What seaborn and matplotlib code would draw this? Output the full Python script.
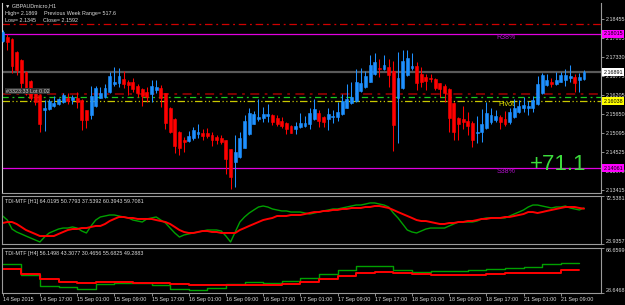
import numpy as np
import pandas as pd
import matplotlib
matplotlib.use("Agg")
import matplotlib.pyplot as plt
import matplotlib.transforms as mtransforms
import seaborn as sns

# ---------------- data ----------------
opens = [2.1781, 2.1792, 2.1787, 2.1748, 2.1725, 2.1689, 2.1663, 2.1639, 2.1622, 2.1577,
         2.1580, 2.1589, 2.1595, 2.1601, 2.1613, 2.1607, 2.1613, 2.1607, 2.1577, 2.1563,
         2.1589, 2.1613, 2.1616, 2.1630, 2.1654, 2.1657, 2.1669, 2.1660, 2.1660, 2.1648,
         2.1639, 2.1630, 2.1624, 2.1636, 2.1642, 2.1627, 2.1583, 2.1551, 2.1512, 2.1489,
         2.1486, 2.1495, 2.1507, 2.1510, 2.1510, 2.1504, 2.1498, 2.1495, 2.1489, 2.1462,
         2.1424, 2.1439, 2.1465, 2.1507, 2.1536, 2.1551, 2.1554, 2.1560, 2.1563, 2.1554,
         2.1545, 2.1539, 2.1530, 2.1521, 2.1527, 2.1530, 2.1536, 2.1551, 2.1568, 2.1557,
         2.1551, 2.1557, 2.1557, 2.1566, 2.1583, 2.1598, 2.1604, 2.1633, 2.1645, 2.1660,
         2.1683, 2.1701, 2.1698, 2.1704, 2.1692, 2.1613, 2.1642, 2.1680, 2.1701, 2.1707,
         2.1683, 2.1675, 2.1672, 2.1669, 2.1657, 2.1648, 2.1639, 2.1598, 2.1554, 2.1551,
         2.1545, 2.1539, 2.1510, 2.1512, 2.1524, 2.1542, 2.1548, 2.1557, 2.1551, 2.1542,
         2.1557, 2.1571, 2.1583, 2.1583, 2.1583, 2.1595, 2.1627, 2.1651, 2.1660, 2.1654,
         2.1660, 2.1666, 2.1672, 2.1675, 2.1666, 2.1669]
highs = [2.1813, 2.1801, 2.1790, 2.1751, 2.1728, 2.1692, 2.1666, 2.1642, 2.1624, 2.1607,
         2.1610, 2.1619, 2.1613, 2.1627, 2.1627, 2.1622, 2.1630, 2.1610, 2.1577, 2.1648,
         2.1648, 2.1645, 2.1654, 2.1689, 2.1704, 2.1701, 2.1692, 2.1666, 2.1672, 2.1654,
         2.1642, 2.1645, 2.1666, 2.1666, 2.1651, 2.1627, 2.1586, 2.1554, 2.1515, 2.1498,
         2.1515, 2.1527, 2.1536, 2.1521, 2.1524, 2.1512, 2.1504, 2.1504, 2.1489, 2.1462,
         2.1504, 2.1512, 2.1563, 2.1583, 2.1574, 2.1610, 2.1586, 2.1595, 2.1566, 2.1563,
         2.1557, 2.1542, 2.1533, 2.1542, 2.1568, 2.1560, 2.1583, 2.1610, 2.1577, 2.1560,
         2.1583, 2.1577, 2.1601, 2.1624, 2.1654, 2.1660, 2.1698, 2.1701, 2.1692, 2.1739,
         2.1745, 2.1728, 2.1739, 2.1728, 2.1722, 2.1748, 2.1754, 2.1754, 2.1745, 2.1719,
         2.1704, 2.1683, 2.1683, 2.1672, 2.1657, 2.1654, 2.1642, 2.1601, 2.1557, 2.1589,
         2.1571, 2.1545, 2.1560, 2.1580, 2.1601, 2.1583, 2.1577, 2.1563, 2.1574, 2.1583,
         2.1610, 2.1607, 2.1616, 2.1604, 2.1619, 2.1678, 2.1686, 2.1683, 2.1672, 2.1689,
         2.1689, 2.1698, 2.1710, 2.1683, 2.1686, 2.1695]
lows = [2.1778, 2.1754, 2.1686, 2.1680, 2.1636, 2.1622, 2.1607, 2.1592, 2.1512, 2.1515,
        2.1577, 2.1586, 2.1592, 2.1598, 2.1595, 2.1595, 2.1583, 2.1518, 2.1524, 2.1551,
        2.1586, 2.1613, 2.1613, 2.1627, 2.1648, 2.1645, 2.1642, 2.1622, 2.1630, 2.1616,
        2.1589, 2.1601, 2.1601, 2.1627, 2.1586, 2.1521, 2.1510, 2.1451, 2.1445, 2.1454,
        2.1483, 2.1489, 2.1495, 2.1489, 2.1495, 2.1471, 2.1477, 2.1477, 2.1389, 2.1345,
        2.1350, 2.1436, 2.1465, 2.1504, 2.1536, 2.1545, 2.1542, 2.1542, 2.1533, 2.1530,
        2.1524, 2.1507, 2.1510, 2.1507, 2.1524, 2.1527, 2.1521, 2.1548, 2.1527, 2.1527,
        2.1518, 2.1539, 2.1545, 2.1563, 2.1583, 2.1595, 2.1601, 2.1630, 2.1642, 2.1660,
        2.1680, 2.1675, 2.1695, 2.1645, 2.1457, 2.1480, 2.1639, 2.1678, 2.1695, 2.1636,
        2.1645, 2.1636, 2.1660, 2.1636, 2.1616, 2.1601, 2.1512, 2.1489, 2.1489, 2.1521,
        2.1504, 2.1468, 2.1480, 2.1483, 2.1521, 2.1536, 2.1542, 2.1521, 2.1530, 2.1536,
        2.1554, 2.1568, 2.1571, 2.1563, 2.1571, 2.1592, 2.1624, 2.1648, 2.1645, 2.1651,
        2.1660, 2.1648, 2.1660, 2.1630, 2.1630, 2.1666]
closes = [2.1807, 2.1778, 2.1707, 2.1695, 2.1657, 2.1630, 2.1613, 2.1601, 2.1536, 2.1583,
          2.1604, 2.1598, 2.1610, 2.1622, 2.1604, 2.1616, 2.1601, 2.1548, 2.1548, 2.1619,
          2.1642, 2.1627, 2.1642, 2.1678, 2.1660, 2.1678, 2.1654, 2.1651, 2.1639, 2.1627,
          2.1619, 2.1616, 2.1648, 2.1645, 2.1613, 2.1539, 2.1512, 2.1471, 2.1465, 2.1483,
          2.1501, 2.1518, 2.1512, 2.1501, 2.1501, 2.1489, 2.1489, 2.1483, 2.1433, 2.1380,
          2.1454, 2.1495, 2.1545, 2.1568, 2.1566, 2.1557, 2.1566, 2.1566, 2.1542, 2.1536,
          2.1530, 2.1521, 2.1510, 2.1530, 2.1539, 2.1539, 2.1568, 2.1580, 2.1545, 2.1542,
          2.1566, 2.1560, 2.1571, 2.1604, 2.1610, 2.1616, 2.1660, 2.1657, 2.1678, 2.1710,
          2.1719, 2.1698, 2.1710, 2.1680, 2.1533, 2.1672, 2.1722, 2.1731, 2.1707, 2.1657,
          2.1660, 2.1663, 2.1669, 2.1642, 2.1639, 2.1627, 2.1554, 2.1512, 2.1536, 2.1542,
          2.1530, 2.1489, 2.1512, 2.1536, 2.1568, 2.1563, 2.1560, 2.1542, 2.1536, 2.1571,
          2.1583, 2.1589, 2.1592, 2.1589, 2.1607, 2.1654, 2.1680, 2.1666, 2.1654, 2.1666,
          2.1680, 2.1680, 2.1678, 2.1657, 2.1675, 2.1689]

tdi_h1_green = [52.3, 48.2, 39.1, 36.1, 34.1, 32.0, 30.0, 28.0, 26.0, 31.0,
                35.1, 37.1, 39.1, 40.1, 40.1, 41.2, 40.1, 37.1, 35.1, 42.2,
                48.2, 51.3, 52.3, 53.3, 53.3, 52.3, 51.3, 50.3, 48.2, 47.2,
                46.2, 49.3, 50.3, 51.3, 48.2, 45.2, 40.1, 35.1, 31.0, 33.1,
                34.1, 35.1, 36.1, 37.1, 38.1, 38.1, 38.1, 37.1, 32.0, 26.0,
                36.1, 46.2, 51.3, 55.3, 58.4, 61.4, 62.4, 61.4, 59.4, 58.4,
                57.4, 57.4, 56.3, 56.3, 56.3, 55.3, 54.3, 55.3, 56.3, 57.4,
                58.4, 59.4, 59.4, 60.4, 61.4, 62.4, 63.4, 63.4, 64.4, 65.5,
                65.5, 64.4, 63.4, 61.4, 55.3, 50.3, 44.2, 38.1, 36.1, 35.1,
                37.1, 39.1, 40.1, 40.1, 40.1, 40.1, 42.2, 44.2, 46.2, 46.2,
                46.2, 46.2, 47.2, 49.3, 50.3, 50.3, 50.3, 50.3, 50.3, 52.3,
                54.3, 56.3, 58.4, 61.4, 63.4, 63.4, 62.4, 61.4, 60.4, 61.4,
                61.4, 62.4, 60.4, 59.4, 58.4, 60.4]
tdi_h1_red = [45.2, 46.2, 46.2, 44.2, 41.2, 38.1, 36.1, 34.1, 32.0, 32.0,
              32.0, 32.0, 34.1, 36.1, 38.1, 39.1, 39.1, 40.1, 40.1, 41.2,
              42.2, 42.2, 44.2, 47.2, 49.3, 51.3, 51.3, 50.3, 50.3, 49.3,
              49.3, 49.3, 49.3, 48.2, 47.2, 46.2, 44.2, 41.2, 38.1, 36.1,
              35.1, 35.1, 36.1, 37.1, 37.1, 36.1, 36.1, 35.1, 35.1, 35.1,
              35.1, 38.1, 40.1, 42.2, 44.2, 46.2, 48.2, 49.3, 50.3, 52.3,
              52.3, 52.3, 53.3, 53.3, 53.3, 54.3, 55.3, 56.3, 56.3, 57.4,
              57.4, 58.4, 58.4, 59.4, 59.4, 60.4, 60.4, 60.4, 61.4, 61.4,
              62.4, 62.4, 61.4, 60.4, 58.4, 56.3, 54.3, 52.3, 50.3, 48.2,
              47.2, 47.2, 46.2, 45.2, 44.2, 44.2, 45.2, 45.2, 46.2, 46.2,
              47.2, 47.2, 48.2, 49.3, 49.3, 50.3, 50.3, 50.3, 51.3, 51.3,
              52.3, 53.3, 54.3, 56.3, 56.3, 55.3, 56.3, 57.4, 58.4, 59.4,
              60.4, 61.4, 61.4, 61.4, 60.4, 59.7]

tdi_h4_green = [54.4, 44.7, 34.9, 34.0, 32.2, 36.7, 37.5, 37.5, 35.8, 32.2, 31.3, 33.1,
                36.7, 38.4, 37.5, 39.3, 42.0, 45.5, 49.1, 52.7, 52.7, 49.1, 47.3, 48.2,
                48.2, 49.1, 50.0, 50.9, 51.8, 54.4, 55.7, 55.7]
tdi_h4_red = [50.0, 45.5, 41.1, 38.4, 37.5, 38.4, 38.4, 37.5, 37.5, 36.7, 35.8, 35.8,
              35.8, 35.8, 35.8, 36.7, 38.4, 41.1, 43.8, 46.4, 47.3, 46.4, 45.5, 44.7,
              44.7, 44.7, 45.5, 46.4, 46.4, 46.4, 49.3, 49.3]

time_labels = ["14 Sep 2015", "14 Sep 17:00", "15 Sep 01:00", "15 Sep 09:00",
               "15 Sep 17:00", "16 Sep 01:00", "16 Sep 09:00", "16 Sep 17:00",
               "17 Sep 01:00", "17 Sep 09:00", "17 Sep 17:00", "18 Sep 01:00",
               "18 Sep 09:00", "18 Sep 17:00", "21 Sep 01:00", "21 Sep 09:00"]
time_label_bars = [0, 8, 16, 24, 32, 40, 48, 56, 64, 72, 80, 88, 96, 104, 112, 120]

price_ticks = [2.18455, 2.17885, 2.17330, 2.16775, 2.16205, 2.15650,
               2.15095, 2.14525, 2.13970, 2.13415]
price_range = [2.13327, 2.18927]

level_red_top = 2.1832
level_r38 = 2.18015
level_current = 2.16891
level_darkred = 2.1624
level_green = 2.1615
level_pivot = 2.16038
level_s38 = 2.14061

h1_range = [23.9357, 72.5381]
h4_range = [28.6468, 68.6599]

# ---------------- style ----------------
sns.set_theme(style="dark", rc={"axes.facecolor": "black", "figure.facecolor": "black",
                                "axes.grid": False})
plt.rcParams['font.family'] = ['Liberation Sans', 'DejaVu Sans']

TXT = '#DCDCDC'
BULL = '#1E90FF'
BEAR = '#FF0000'
FS = 3.9

W, H = 625, 305
fig = plt.figure(figsize=(6.25, 3.05), dpi=100, facecolor='black')


def fx(px):
    return px / W


def fy(py):
    return 1 - py / H


ax_main = fig.add_axes([fx(2), fy(193), (601 - 2) / W, (193 - 3) / H])
ax_h1 = fig.add_axes([fx(2), fy(244), (601 - 2) / W, (244 - 196) / H])
ax_h4 = fig.add_axes([fx(2), fy(293), (601 - 2) / W, (293 - 248) / H])

for ax in (ax_main, ax_h1, ax_h4):
    ax.set_facecolor('black')
    ax.set_xlim(-0.15, 128.65)
    for s in ax.spines.values():
        s.set_color('#9A9A9A')
        s.set_linewidth(0.8)
    ax.yaxis.tick_right()
    ax.tick_params(axis='y', which='both', right=True, left=False, length=2, width=0.5,
                   color='#C8C8C8', labelsize=FS, labelcolor=TXT, pad=1.5)
    ax.tick_params(axis='x', bottom=False, labelbottom=False)

ax_main.spines['top'].set_visible(False)
ax_main.spines['left'].set_color('#D0D0D0')

# ---------------- main chart ----------------
df = pd.DataFrame({'bar': np.arange(len(opens)), 'open': opens, 'high': highs,
                   'low': lows, 'close': closes})
up = df['close'] >= df['open']
cols = np.where(up, BULL, BEAR)

ax_main.axhline(level_red_top, color='#D00000', lw=0.9, ls=(0, (6, 3, 1.5, 3)), zorder=1)
ax_main.axhline(level_r38, color='#E000E0', lw=0.9, zorder=1)
ax_main.axhline(level_current, color='#5A5A5A', lw=1.6, zorder=1)
ax_main.axhline(level_darkred, color='#8B0000', lw=1.3, ls=(0, (5, 3, 1.5, 3)), zorder=1)
ax_main.axhline(level_green, color='#1EC81E', lw=0.9, ls=(0, (5, 3, 1.5, 3)), zorder=1)
ax_main.axhline(level_pivot, color='#C8C800', lw=0.9, ls=(0, (6, 2, 1, 2, 1, 2)), zorder=1)
ax_main.axhline(level_s38, color='#E000E0', lw=0.9, zorder=1)

ax_main.vlines(df['bar'], df['low'], df['high'], colors=cols, linewidth=0.75, zorder=3)
ax_main.bar(df['bar'], (df['close'] - df['open']).abs(),
            bottom=df[['open', 'close']].min(axis=1), width=0.62,
            color=cols, edgecolor=cols, linewidth=0.4, zorder=4)

ax_main.set_ylim(*price_range)
ax_main.set_yticks(price_ticks)
ax_main.set_yticklabels([f"{v:.5f}" for v in price_ticks])

tr = mtransforms.blended_transform_factory(ax_main.transAxes, ax_main.transData)
for val, fc in [(level_r38, '#FF00FF'), (level_current, '#FFFFFF'),
                (level_pivot, '#FFFF00'), (level_s38, '#FF00FF')]:
    ax_main.text(1.004, val, f"{val:.5f}", transform=tr, ha='left', va='center',
                 fontsize=FS, color='black', clip_on=False, zorder=10,
                 bbox=dict(boxstyle='square,pad=0.22', fc=fc, ec='none'))

ax_main.text(108.3, level_r38, "R38%", color='#B010C8', fontsize=5, ha='center',
             va='top', zorder=6)
ax_main.text(108.3, level_s38, "S38%", color='#B010C8', fontsize=5, ha='center',
             va='top', zorder=6)
ax_main.text(108.3, level_pivot - 0.0009, "Pivot", color='#E6E600', fontsize=5.2,
             ha='center', va='center', zorder=6)

fig.text(fx(558), fy(165), "+71.1", color='#3CDC3C', fontsize=16, ha='center',
         va='center')

# header texts
fig.text(fx(5), fy(5.5), "▼ GBPAUDmicro,H1", color=TXT, fontsize=FS, va='center')
fig.text(fx(5), fy(14), "High= 2.1869", color=TXT, fontsize=FS, va='center')
fig.text(fx(44), fy(14), "Previous Week Range= 517.6", color=TXT, fontsize=FS, va='center')
fig.text(fx(5), fy(20.5), "Low= 2.1345", color=TXT, fontsize=FS, va='center')
fig.text(fx(43), fy(20.5), "Close= 2.1592", color=TXT, fontsize=FS, va='center')
fig.text(fx(6), fy(91), "#3323:33 Lot 0.02", color='#C8C8C8', fontsize=FS, va='center',
         bbox=dict(boxstyle='square,pad=0.1', fc='#303030', ec='none'))

# ---------------- TDI H1 ----------------
bars = np.arange(len(tdi_h1_green))
sns.lineplot(x=bars, y=tdi_h1_green, ax=ax_h1, color='#00A000', linewidth=1.0,
             errorbar=None)
sns.lineplot(x=bars, y=tdi_h1_red, ax=ax_h1, color='#FF0000', linewidth=1.4,
             errorbar=None)
ax_h1.set_ylim(*h1_range)
ax_h1.set_yticks(h1_range)
ax_h1.set_yticklabels([f"{h1_range[0]:.4f}", f"{h1_range[1]:.4f}"])
tk = ax_h1.yaxis.get_major_ticks()
tk[0].label2.set_va('bottom')
tk[1].label2.set_va('top')
ax_h1.set_xlabel('')
ax_h1.set_ylabel('')
ax_h1.text(0.005, 0.93, "TDI-MTF [H1] 64.0195 50.7793 37.5392 60.3943 59.7081",
           transform=ax_h1.transAxes, color=TXT, fontsize=FS, va='top', ha='left')

# ---------------- TDI H4 ----------------
h4_bars = np.arange(len(tdi_h4_green)) * 4
sns.lineplot(x=h4_bars, y=tdi_h4_green, ax=ax_h4, color='#00A000', linewidth=1.0,
             errorbar=None, drawstyle='steps-post')
sns.lineplot(x=h4_bars, y=tdi_h4_red, ax=ax_h4, color='#FF0000', linewidth=1.4,
             errorbar=None, drawstyle='steps-post')
ax_h4.set_ylim(*h4_range)
ax_h4.set_yticks(h4_range)
ax_h4.set_yticklabels([f"{h4_range[0]:.4f}", f"{h4_range[1]:.4f}"])
tk = ax_h4.yaxis.get_major_ticks()
tk[0].label2.set_va('bottom')
tk[1].label2.set_va('top')
ax_h4.set_ylabel('')
ax_h4.text(0.005, 0.93, "TDI-MTF [H4] 56.1498 43.3077 30.4656 55.6825 49.2883",
           transform=ax_h4.transAxes, color=TXT, fontsize=FS, va='top', ha='left')

ax_h4.set_xticks(time_label_bars)
ax_h4.set_xticklabels(time_labels, ha='left')
ax_h4.tick_params(axis='x', bottom=True, labelbottom=True, length=2, width=0.5,
                  color='#C8C8C8', labelsize=FS, labelcolor=TXT, pad=1)
ax_h4.set_xlabel('')
ax_h4.set_xlim(-0.15, 128.65)

fig.savefig("out.png", dpi=100, facecolor='black')
